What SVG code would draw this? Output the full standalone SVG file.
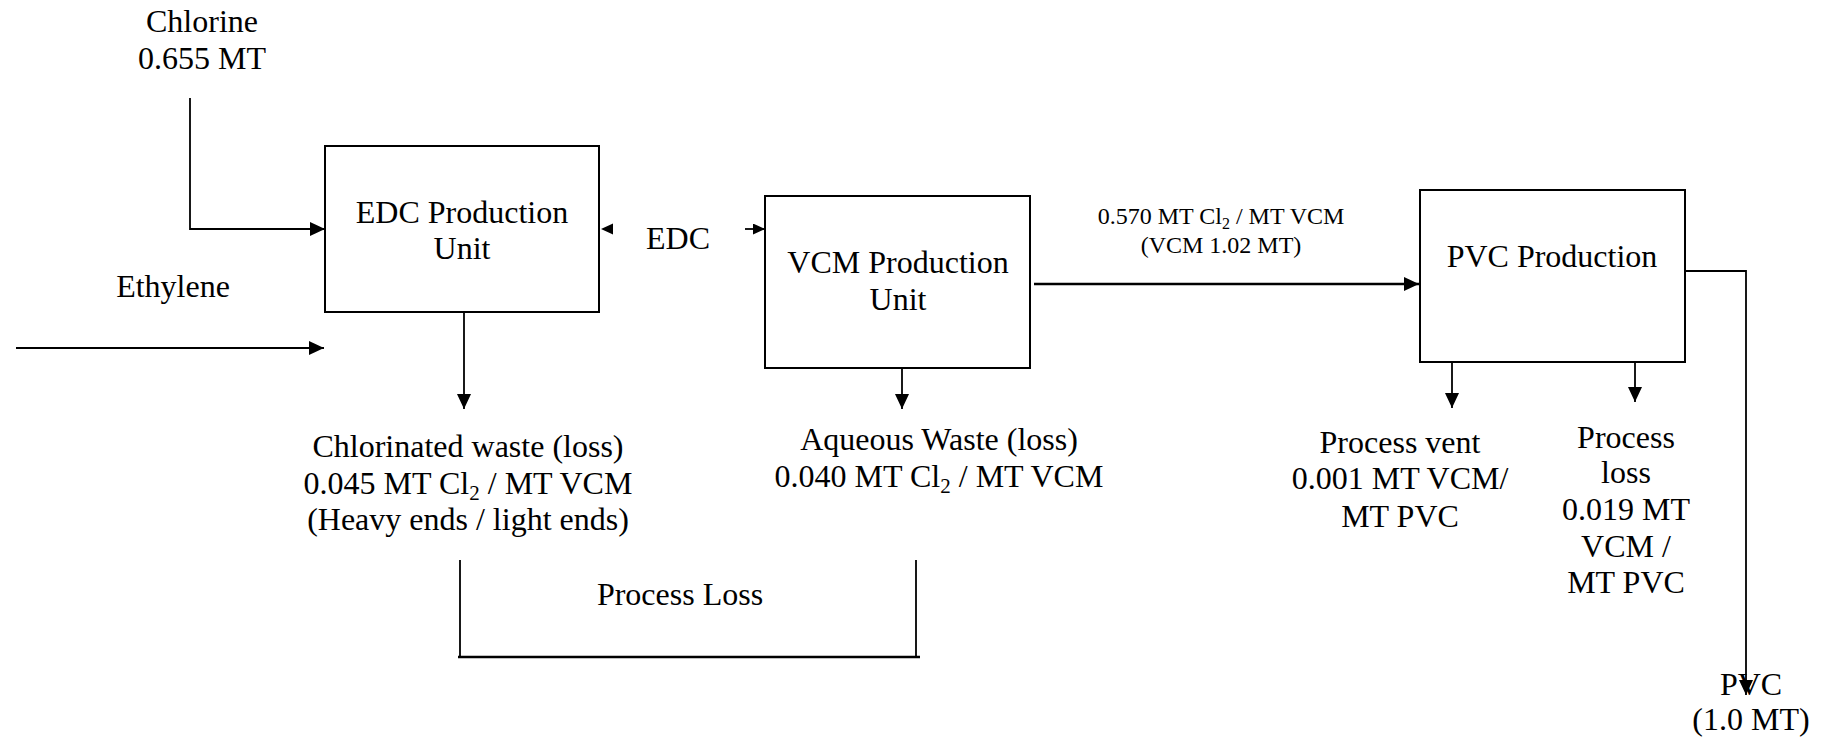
<svg xmlns="http://www.w3.org/2000/svg" width="1833" height="744" viewBox="0 0 1833 744">
<style>
  text { font-family: "Liberation Serif", "Times New Roman", serif; fill: #000; text-anchor: middle; }
  .t32 { font-size: 32px; }
  .t24 { font-size: 24px; }
  .box { fill: #fff; stroke: #000; stroke-width: 2; }
  .ln { fill: none; stroke: #000; stroke-width: 1.8; }
  .thick { stroke-width: 2.6; }
  .arr { marker-end: url(#ah); }
  .sarr { marker-end: url(#sah); }
</style>
<defs>
  <marker id="ah" markerUnits="userSpaceOnUse" markerWidth="15" markerHeight="14" refX="15" refY="7" orient="auto">
    <path d="M0,0 L15,7 L0,14 z" fill="#000"/>
  </marker>
  <marker id="sah" markerUnits="userSpaceOnUse" markerWidth="12" markerHeight="11" refX="12" refY="5.5" orient="auto">
    <path d="M0,0 L12,5.5 L0,11 z" fill="#000"/>
  </marker>
</defs>
<rect width="1833" height="744" fill="#fff"/>

<g id="connectors">
  <path class="ln arr" d="M190,98 V229 H325"/>
  <path class="ln arr" d="M16,348 H324"/>
  <path class="ln arr" d="M464,312 V409"/>
  <polygon points="601,229 613,223.5 613,234.5" fill="#000"/>
  <path class="ln sarr" d="M745,229 H765"/>
  <path class="ln arr" d="M902,314 V409"/>
  <path class="ln thick arr" d="M1034,284 H1419"/>
  <path class="ln arr" d="M1452,312 V408"/>
  <path class="ln arr" d="M1635,305 V402"/>
  <path class="ln arr" d="M1686,271 H1746 V695"/>
  <path class="ln" d="M460,560 V657 M916,560 V657"/>
  <path class="ln thick" d="M458,657 H920"/>
</g>

<g id="chlorine">
  <text class="t32" x="202" y="32">Chlorine</text>
  <text class="t32" x="202" y="69">0.655 MT</text>
</g>
<g id="ethylene">
  <text class="t32" x="173" y="297">Ethylene</text>
</g>
<g id="edc-unit">
  <rect class="box" x="325" y="146" width="274" height="166"/>
  <text class="t32" x="462" y="223">EDC Production</text>
  <text class="t32" x="462" y="259">Unit</text>
</g>
<g id="edc-label">
  <text class="t32" x="678" y="249">EDC</text>
</g>
<g id="vcm-unit">
  <rect class="box" x="765" y="196" width="265" height="172"/>
  <text class="t32" x="898" y="273">VCM Production</text>
  <text class="t32" x="898" y="310">Unit</text>
</g>
<g id="vcm-flow-label">
  <text class="t24" x="1221" y="224">0.570 MT Cl<tspan font-size="16" dy="5">2</tspan><tspan dy="-5"> / MT VCM</tspan></text>
  <text class="t24" x="1221" y="253">(VCM 1.02 MT)</text>
</g>
<g id="pvc-unit">
  <rect class="box" x="1420" y="190" width="265" height="172"/>
  <text class="t32" x="1552" y="267">PVC Production</text>
</g>
<g id="chlorinated-waste">
  <text class="t32" x="468" y="457">Chlorinated waste (loss)</text>
  <text class="t32" x="468" y="494">0.045 MT Cl<tspan font-size="21" dy="6">2</tspan><tspan dy="-6"> / MT VCM</tspan></text>
  <text class="t32" x="468" y="530">(Heavy ends / light ends)</text>
</g>
<g id="aqueous-waste">
  <text class="t32" x="939" y="450">Aqueous Waste (loss)</text>
  <text class="t32" x="939" y="487">0.040 MT Cl<tspan font-size="21" dy="6">2</tspan><tspan dy="-6"> / MT VCM</tspan></text>
</g>
<g id="process-loss-total">
  <text class="t32" x="680" y="605">Process Loss</text>
</g>
<g id="process-vent">
  <text class="t32" x="1400" y="453">Process vent</text>
  <text class="t32" x="1400" y="489">0.001 MT VCM/</text>
  <text class="t32" x="1400" y="527">MT PVC</text>
</g>
<g id="process-loss">
  <text class="t32" x="1626" y="448">Process</text>
  <text class="t32" x="1626" y="483">loss</text>
  <text class="t32" x="1626" y="520">0.019 MT</text>
  <text class="t32" x="1626" y="557">VCM /</text>
  <text class="t32" x="1626" y="593">MT PVC</text>
</g>
<g id="pvc-product">
  <text class="t32" x="1751" y="695">PVC</text>
  <text class="t32" x="1751" y="730">(1.0 MT)</text>
</g>
</svg>
